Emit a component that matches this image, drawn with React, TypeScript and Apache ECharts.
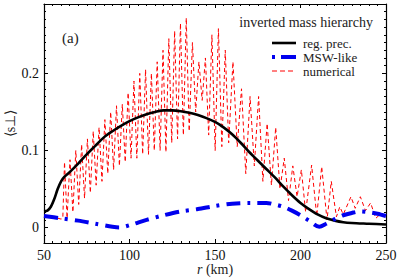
import React, { useEffect, useRef } from 'react';
import * as echarts from 'echarts';

const FONT = 'Liberation Serif';

// reg. prec. (black solid)
const regR = [50, 52, 54, 56, 58, 60, 62, 65, 70, 75, 80, 85, 90, 95, 100, 105, 110, 115, 120, 125, 130, 135, 140, 145, 150, 155, 160, 165, 170, 175, 180, 185, 190, 195, 200, 205, 210, 215, 220, 225, 230, 240, 250];
const regVals = [0.021, 0.022, 0.027, 0.037, 0.05, 0.06, 0.066, 0.072, 0.083, 0.095, 0.106, 0.117, 0.125, 0.132, 0.138, 0.143, 0.147, 0.15, 0.152, 0.152, 0.151, 0.149, 0.146, 0.142, 0.137, 0.13, 0.121, 0.11, 0.098, 0.087, 0.076, 0.065, 0.053, 0.042, 0.032, 0.024, 0.017, 0.012, 0.009, 0.007, 0.006, 0.005, 0.004];

// MSW-like (blue dash-dot)
const mswR = [50, 60, 70, 80, 90, 94, 100, 110, 120, 130, 140, 150, 160, 170, 180, 185, 190, 195, 200, 205, 211, 215, 220, 225, 230, 235, 240, 245, 250];
const mswVals = [0.015, 0.012, 0.009, 0.005, 0.001, 0.0, 0.003, 0.01, 0.016, 0.021, 0.024, 0.028, 0.031, 0.032, 0.032, 0.03, 0.027, 0.022, 0.016, 0.009, 0.001, 0.005, 0.011, 0.016, 0.019, 0.021, 0.02, 0.018, 0.015];

// numerical (red dashed)
const numR = [50, 55, 60, 61, 62.0, 63.5, 65.2, 66.9, 68.6, 70.3, 72.0, 73.7, 75.4, 77.1, 78.8, 80.5, 82.2, 83.9, 85.6, 87.3, 89.0, 90.7, 92.4, 94.1, 95.8, 97.5, 99.2, 100.9, 102.6, 104.3, 106.0, 107.7, 109.4, 111.1, 112.8, 114.5, 116.2, 117.9, 119.6, 121.3, 123.0, 124.7, 126.4, 128.1, 129.8, 131.5, 133.2, 134.9, 136.8, 138.7, 140.6, 142.5, 144.4, 146.3, 148.2, 150.1, 152.0, 154.0, 156.0, 158.0, 160.5, 163.0, 165.5, 168.0, 170.5, 173.0, 175.5, 178.0, 180.5, 183.0, 185.5, 188.0, 190.5, 193.0, 195.5, 198.0, 200.5, 203.0, 206.5, 209.5, 212.4, 215.5, 218.0, 221.0, 223.0, 225.0, 229.5, 232.0, 235.0, 238.0, 241.0, 244.0, 247.0, 250.0];
const numVals = [0.015, 0.014, 0.011, 0.012, 0.085, 0.012, 0.088, 0.02, 0.1, 0.03, 0.108, 0.038, 0.115, 0.045, 0.125, 0.055, 0.13, 0.06, 0.14, 0.07, 0.15, 0.075, 0.158, 0.08, 0.16, 0.085, 0.175, 0.09, 0.19, 0.09, 0.2, 0.095, 0.205, 0.095, 0.2, 0.1, 0.215, 0.1, 0.23, 0.098, 0.245, 0.11, 0.255, 0.115, 0.265, 0.12, 0.272, 0.125, 0.24, 0.15, 0.215, 0.165, 0.22, 0.12, 0.25, 0.1, 0.258, 0.105, 0.23, 0.11, 0.215, 0.105, 0.18, 0.07, 0.17, 0.08, 0.17, 0.06, 0.135, 0.055, 0.13, 0.05, 0.09, 0.035, 0.08, 0.04, 0.075, 0.02, 0.081, 0.015, 0.079, 0.01, 0.06, 0.014, 0.027, 0.017, 0.04, 0.025, 0.04, 0.022, 0.032, 0.012, 0.018, 0.012];

const xMajor = 50;
const yLabels = [0, 0.1, 0.2];
const yMinor = [-0.01, 0.01, 0.02, 0.03, 0.04, 0.05, 0.06, 0.07, 0.08, 0.09, 0.11, 0.12, 0.13, 0.14, 0.15, 0.16, 0.17, 0.18, 0.19, 0.21, 0.22, 0.23, 0.24, 0.25, 0.26, 0.27, 0.28];
const legendNames = ['reg. prec.', 'MSW-like', 'numerical'];

const RED = '#ff0000';
const BLUE = '#0000ee';
const BLACK = '#000000';

const zip = (xs: number[], ys: number[]) => xs.map((x, i) => [x, ys[i]]);

export default function App() {
  const ref = useRef<HTMLDivElement>(null);
  useEffect(() => {
    const chart = echarts.init(ref.current!, null, { renderer: 'svg' });
    const axisLine = { show: true, onZero: false, lineStyle: { color: '#000', width: 1.2 } };
    const tickStyle = { color: '#000', width: 1 };
    const xBase = {
      type: 'value' as const,
      min: 50,
      max: 250,
      interval: xMajor,
      axisLine,
      axisTick: { show: true, inside: true, length: 4, lineStyle: tickStyle },
      minorTick: { show: true, splitNumber: 10, length: 2, lineStyle: tickStyle },
      splitLine: { show: false },
    };
    const yBase = {
      type: 'value' as const,
      min: -0.02,
      max: 0.29,
      splitLine: { show: false },
    };
    const legendStyles = [
      { stroke: BLACK, lineWidth: 2.6 },
      { stroke: BLUE, lineWidth: 4, lineDash: [3, 6, 16, 6] },
      { stroke: RED, lineWidth: 1, lineDash: [5, 3] },
    ];
    const legendRowsY = [43, 57, 71];
    const legendGraphics: any[] = [];
    legendNames.forEach((name, i) => {
      legendGraphics.push({
        type: 'line',
        shape: { x1: 272, y1: legendRowsY[i], x2: 296, y2: legendRowsY[i] },
        style: legendStyles[i],
      });
      legendGraphics.push({
        type: 'text',
        x: 303,
        y: legendRowsY[i] - 6,
        style: { text: name, fontFamily: FONT, fontSize: 13, fill: '#222', lineHeight: 12 },
      });
    });
    chart.setOption({
      animation: false,
      backgroundColor: '#fff',
      textStyle: { fontFamily: FONT },
      grid: { left: 44, right: 13, top: 4, bottom: 36, containLabel: false, outerBoundsMode: 'none' },
      xAxis: [
        {
          ...xBase,
          position: 'bottom',
          axisLabel: { show: true, fontFamily: FONT, fontSize: 14, color: '#111', margin: 5 },
          name: '{i|r} (km)',
          nameLocation: 'middle',
          nameGap: 19,
          nameMoveOverlap: false,
          nameTextStyle: {
            fontFamily: FONT,
            fontSize: 14,
            color: '#222',
            rich: { i: { fontFamily: FONT, fontSize: 14, fontStyle: 'italic', color: '#222' } },
          },
        },
        { ...xBase, position: 'top', axisLabel: { show: false } },
      ],
      yAxis: [
        {
          ...yBase,
          position: 'left',
          axisLine,
          axisTick: { show: true, inside: true, length: 4, lineStyle: tickStyle, customValues: yLabels },
          axisLabel: {
            show: true,
            customValues: yLabels,
            fontFamily: FONT,
            fontSize: 14,
            color: '#111',
            margin: 5,
            formatter: (v: number) => (v === 0 ? '0' : v.toFixed(1)),
          },
          name: '⟨s⊥⟩',
          nameLocation: 'middle',
          nameGap: 27,
          nameRotate: 90,
          nameMoveOverlap: false,
          nameTextStyle: { fontFamily: FONT, fontSize: 14, color: '#222' },
        },
        {
          ...yBase,
          position: 'left',
          axisLine: { show: false },
          axisTick: { show: true, inside: true, length: 2, lineStyle: tickStyle, customValues: yMinor },
          axisLabel: { show: false },
        },
        {
          ...yBase,
          position: 'right',
          axisLine,
          axisTick: { show: true, inside: true, length: 4, lineStyle: tickStyle, customValues: yLabels },
          axisLabel: { show: false },
        },
        {
          ...yBase,
          position: 'right',
          axisLine: { show: false },
          axisTick: { show: true, inside: true, length: 2, lineStyle: tickStyle, customValues: yMinor },
          axisLabel: { show: false },
        },
      ],
      graphic: [
        {
          type: 'text',
          left: 62,
          top: 30,
          style: { text: '(a)', fontFamily: FONT, fontSize: 15, fill: '#222' },
        },
        {
          type: 'text',
          right: 26,
          top: 15,
          style: { text: 'inverted mass hierarchy', fontFamily: FONT, fontSize: 14, fill: '#222' },
        },
        ...legendGraphics,
      ],
      series: [
        {
          name: 'numerical',
          type: 'line',
          data: zip(numR, numVals),
          showSymbol: false,
          symbol: 'none',
          lineStyle: { color: RED, width: 1, type: [4, 3] },
          itemStyle: { color: RED },
          z: 2,
        },
        {
          name: 'reg. prec.',
          type: 'line',
          data: zip(regR, regVals),
          showSymbol: false,
          symbol: 'none',
          smooth: 0.3,
          lineStyle: { color: BLACK, width: 2.6 },
          itemStyle: { color: BLACK },
          z: 3,
        },
        {
          name: 'MSW-like',
          type: 'line',
          data: zip(mswR, mswVals),
          showSymbol: false,
          symbol: 'none',
          smooth: 0.3,
          lineStyle: { color: BLUE, width: 4, type: [14, 7, 3, 7] },
          itemStyle: { color: BLUE },
          z: 4,
        },
      ],
    });
    return () => chart.dispose();
  }, []);
  return <div ref={ref} style={{ position: 'fixed', left: 0, top: 0, width: 399, height: 279 }} />;
}
